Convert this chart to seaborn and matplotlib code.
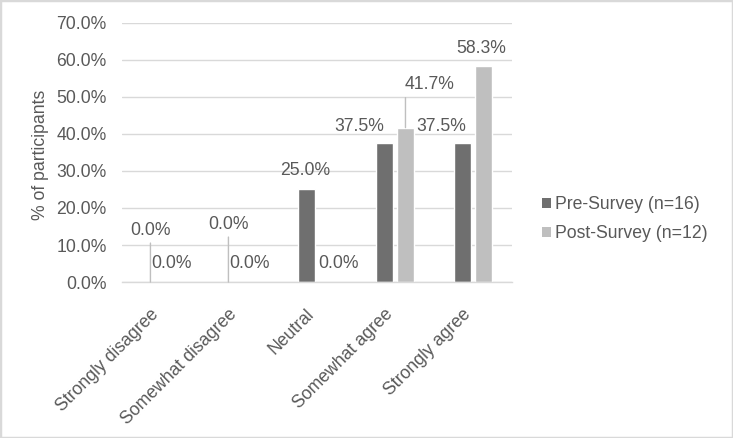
import matplotlib
matplotlib.use("Agg")
import matplotlib.pyplot as plt
import matplotlib.transforms as mtransforms
import seaborn as sns
import pandas as pd
from matplotlib.patches import Patch, Rectangle

categories = ["Strongly disagree", "Somewhat disagree", "Neutral", "Somewhat agree", "Strongly agree"]
series = ["Pre-Survey (n=16)", "Post-Survey (n=12)"]
pre_values = [0.0, 0.0, 25.0, 37.5, 37.5]
post_values = [0.0, 0.0, 0.0, 41.7, 58.3]
y_ticks = [0, 10, 20, 30, 40, 50, 60, 70]

df = pd.DataFrame({
    "category": categories * 2,
    "series": [series[0]] * len(categories) + [series[1]] * len(categories),
    "value": pre_values + post_values,
})

TEXT = "#595959"
GRID = "#D9D9D9"
PRE_C = "#6F6F6F"
POST_C = "#BFBFBF"
FS = 12.7

sns.set_theme(style="white")
plt.rcParams["font.family"] = ["Liberation Sans", "DejaVu Sans"]

fig = plt.figure(figsize=(7.33, 4.38), dpi=100)
ax = fig.add_axes([0.1664, 0.356, 0.532, 0.592])

sns.barplot(data=df, x="category", y="value", hue="series", order=categories,
            hue_order=series, palette=[PRE_C, POST_C], width=0.54, gap=0.185,
            ax=ax, legend=False, saturation=1)

ax.set_ylim(0, 70)
ax.set_xlim(-0.5, len(categories) - 0.5)
ax.set_yticks(y_ticks)
ax.set_yticklabels([f"{t:.1f}%" for t in y_ticks], color=TEXT, fontsize=FS)
ax.yaxis.grid(True, color=GRID, linewidth=1)
ax.set_axisbelow(True)
for s in ["top", "right", "left"]:
    ax.spines[s].set_visible(False)
ax.spines["bottom"].set_color(GRID)
ax.spines["bottom"].set_linewidth(1)
ax.tick_params(axis="both", length=0)
ax.tick_params(axis="y", pad=11)
ax.tick_params(axis="x", pad=10)
ax.set_xticks(range(len(categories)))
ax.set_xticklabels(categories, rotation=45, ha="right", rotation_mode="anchor",
                   color=TEXT, fontsize=FS)
shift = mtransforms.ScaledTranslation(-8 / 72, -7 / 72, fig.dpi_scale_trans)
for lbl in ax.get_xticklabels():
    lbl.set_transform(lbl.get_transform() + shift)
ax.set_xlabel("")
ax.set_ylabel("% of participants", color=TEXT, fontsize=FS)
ax.yaxis.label.set_va("center")
ax.yaxis.set_label_coords(-0.21, 0.49)

# label offsets (pixels): (dx, dy, leader line top or None)
pre_offsets = [(0, 52, 39), (0, 58, 45), (-1, 19, None), (-25, 17, None), (-21, 17, None)]
post_offsets = [(0, 19, None), (0, 19, None), (11, 19, None), (24, 43, 30), (-2, 18, None)]

bar_containers = ax.containers
for cont, vals, offs in zip(bar_containers, [pre_values, post_values], [pre_offsets, post_offsets]):
    for bar, v, (dx, dy, line) in zip(cont.patches, vals, offs):
        xc = bar.get_x() + bar.get_width() / 2
        if line is not None:
            ax.annotate("", xy=(xc, v), xytext=(0, line), textcoords="offset pixels",
                        arrowprops=dict(arrowstyle="-", color="#BFBFBF", lw=1,
                                        shrinkA=0, shrinkB=0))
        ax.annotate(f"{v:.1f}%", xy=(xc, v), xytext=(dx, dy), textcoords="offset pixels",
                    ha="center", va="center", color=TEXT, fontsize=FS)

handles = [Patch(facecolor=PRE_C, edgecolor="none"), Patch(facecolor=POST_C, edgecolor="none")]
fig.legend(handles, series, loc="center left", bbox_to_anchor=(0.739, 0.5),
           bbox_transform=fig.transFigure, frameon=False, fontsize=FS,
           labelcolor=TEXT, handlelength=0.5, handleheight=0.5, handletextpad=0.25,
           labelspacing=0.7, borderpad=0, borderaxespad=0)

fig.patches.append(Rectangle((0, 0), 1, 1, transform=fig.transFigure, fill=False,
                             edgecolor="#D9D9D9", linewidth=2.5))

fig.savefig("out.png", dpi=100)
